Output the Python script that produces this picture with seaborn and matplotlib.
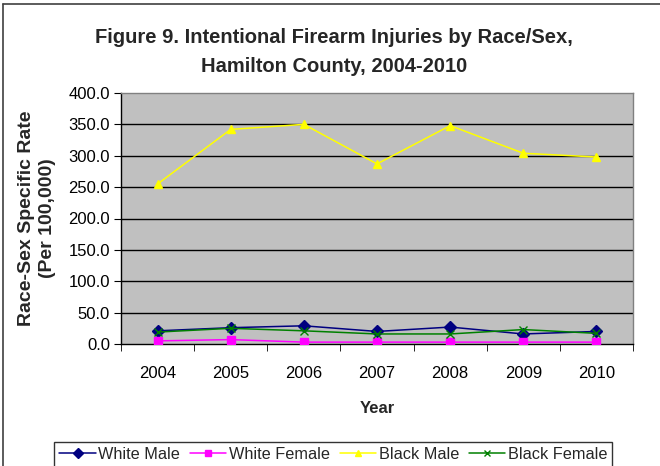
import pandas as pd
import seaborn as sns
import matplotlib.pyplot as plt
from matplotlib.lines import Line2D
from matplotlib.ticker import FormatStrFormatter, FixedLocator

sns.set_style("white")
plt.rcParams['font.family'] = ['Liberation Sans', 'DejaVu Sans']

# rates per 100,000
years = ['2004', '2005', '2006', '2007', '2008', '2009', '2010']
white_male = [21.0, 26.0, 29.0, 20.0, 27.0, 16.0, 20.0]
white_female = [5.0, 7.0, 3.0, 3.0, 3.0, 3.0, 3.0]
black_male = [255.0, 342.0, 350.0, 287.0, 348.0, 304.0, 298.0]
black_female = [19.0, 25.0, 21.0, 16.0, 16.0, 23.0, 17.0]

series_names = ['White Male', 'White Female', 'Black Male', 'Black Female']
series_vals = [white_male, white_female, black_male, black_female]
colors = {'White Male': '#000080', 'White Female': '#FF00FF',
          'Black Male': '#FFFF00', 'Black Female': '#008000'}
marks = {'White Male': 'D', 'White Female': 's', 'Black Male': '^', 'Black Female': 'x'}

fig = plt.figure(figsize=(6.6, 4.66), dpi=100)
ax = fig.add_axes([121 / 660, 1 - 344 / 466, 512 / 660, 251 / 466])
ax.set_facecolor('#C0C0C0')

pos = list(range(len(years)))
for s, vals in zip(series_names, series_vals):
    sns.lineplot(x=pos, y=vals, color=colors[s], marker=marks[s], linewidth=1.1,
                 markersize=6, markeredgecolor=colors[s], markeredgewidth=1,
                 ax=ax, zorder=3)

ax.set_ylim(0, 400)
ax.set_xlim(-0.5, 6.5)
ax.set_yticks(range(0, 401, 50))
ax.yaxis.set_major_formatter(FormatStrFormatter('%.1f'))
for y in range(50, 400, 50):
    ax.axhline(y, color='black', linewidth=1, zorder=0.5)

ax.set_xticks(pos)
ax.set_xticklabels(years)
ax.xaxis.set_minor_locator(FixedLocator([i - 0.5 for i in range(len(years) + 1)]))
ax.tick_params(axis='x', which='major', length=0, pad=16, labelsize=12)
ax.tick_params(axis='x', which='minor', length=5, direction='out', color='black', bottom=True)
ax.tick_params(axis='y', length=5, direction='out', color='black', labelsize=12, pad=3, left=True)
ax.tick_params(axis='both', labelcolor='black')
for sp in ax.spines.values():
    sp.set_color('#808080')
    sp.set_linewidth(1)
ax.spines['left'].set_color('black')
ax.spines['bottom'].set_color('black')

ax.set_xlabel('Year', fontsize=12, fontweight='bold', labelpad=14)
ax.set_ylabel('Race-Sex Specific Rate\n(Per 100,000)', fontsize=14,
              fontweight='bold', labelpad=9, linespacing=1.27)

fig.text(0.506, 1 - 52 / 466,
         'Figure 9. Intentional Firearm Injuries by Race/Sex,\nHamilton County, 2004-2010',
         ha='center', va='center', fontsize=14.5, fontweight='bold', linespacing=1.72)

handles = [Line2D([0], [0], color=colors[s], marker=marks[s], markersize=5,
                  markeredgecolor=colors[s], linewidth=1.1) for s in series_names]
leg = fig.legend(handles, series_names, loc='upper center', ncol=4,
                 bbox_to_anchor=(0.505, 1 - 434 / 466), fontsize=11.7,
                 frameon=True, fancybox=False, edgecolor='black', handlelength=2.25,
                 handletextpad=0.15, columnspacing=0.6, borderpad=0.3)
leg.get_frame().set_linewidth(1)

# chart frame
fig.add_artist(Line2D([3 / 660, 3 / 660], [0, 1 - 4 / 466], color='#404040', linewidth=1.2))
fig.add_artist(Line2D([3 / 660, 1], [1 - 4 / 466, 1 - 4 / 466], color='#404040', linewidth=1.2))

fig.savefig('out.png', dpi=100, facecolor='white')
